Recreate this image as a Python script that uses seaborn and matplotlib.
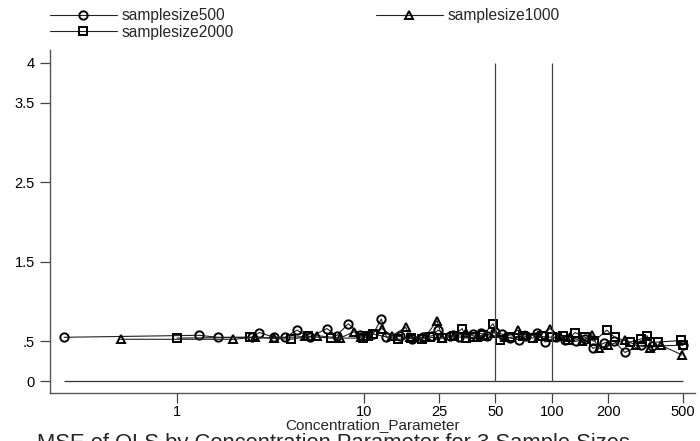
import matplotlib
matplotlib.use("Agg")
import matplotlib.pyplot as plt
import seaborn as sns
import numpy as np
import pandas as pd

# ---- data ----
x500 = [0.25, 1.31, 1.65, 2.5, 2.75, 3.3, 3.76, 4.37, 5.1, 6.3, 7.1, 8.2, 9.5, 11.1, 12.3, 13.1,
        15.5, 18, 20.5, 23, 24.7, 28.5, 29.6, 32, 37.8, 41.7, 45, 50, 54, 60, 67, 73, 83, 92,
        105, 118, 135, 150, 166, 190, 215, 245, 300, 340, 500]
y500 = [0.55, 0.575, 0.55, 0.55, 0.61, 0.55, 0.55, 0.64, 0.55, 0.66, 0.57, 0.72, 0.58, 0.59, 0.78, 0.55,
        0.56, 0.53, 0.55, 0.57, 0.64, 0.56, 0.58, 0.55, 0.59, 0.60, 0.57, 0.62, 0.59, 0.54, 0.52, 0.56, 0.61, 0.49,
        0.55, 0.52, 0.50, 0.53, 0.41, 0.48, 0.50, 0.36, 0.45, 0.44, 0.45]

x1000 = [0.50, 2.0, 2.6, 3.3, 4.8, 5.6, 7.4, 8.8, 9.6, 12.4, 14, 16.6, 17.5, 21, 24.4, 26, 30, 35,
         40, 44, 49, 56, 66, 72, 85, 98, 110, 125, 145, 163, 178, 200, 245, 280, 335, 380, 494]
y1000 = [0.525, 0.525, 0.55, 0.54, 0.56, 0.57, 0.54, 0.62, 0.55, 0.66, 0.57, 0.675, 0.55, 0.55, 0.76, 0.54, 0.56, 0.60,
         0.55, 0.57, 0.61, 0.55, 0.64, 0.58, 0.57, 0.66, 0.56, 0.55, 0.50, 0.58, 0.41, 0.45, 0.52, 0.45, 0.42, 0.45, 0.33]

x2000 = [1.0, 2.45, 4.05, 5.0, 6.6, 9.8, 10.5, 11.1, 15.1, 17.8, 20.2, 22.3, 25.9, 30, 33.2, 34.8, 38, 43,
         48.5, 53, 60, 70, 79, 88, 100, 114, 122, 133, 150, 168, 196, 216, 260, 300, 322, 335, 367, 490, 500]
y2000 = [0.54, 0.55, 0.525, 0.56, 0.54, 0.54, 0.56, 0.59, 0.525, 0.54, 0.525, 0.55, 0.54, 0.57, 0.66, 0.54, 0.55, 0.58,
         0.72, 0.52, 0.55, 0.57, 0.54, 0.56, 0.55, 0.56, 0.52, 0.61, 0.55, 0.50, 0.64, 0.55, 0.49, 0.53, 0.57, 0.49, 0.49, 0.51, 0.45]

series_names = ["samplesize500", "samplesize1000", "samplesize2000"]
xticks = [1, 10, 25, 50, 100, 200, 500]
xticklabels = ["1", "10", "25", "50", "100", "200", "500"]
yticks = [0, 0.5, 1.5, 2.5, 3.5, 4]
yticklabels = ["0", ".5", "1.5", "2.5", "3.5", "4"]
vline_x = [50, 100]
xlabel = "Concentration_Parameter"
title = "MSE of OLS by Concentration Parameter for 3 Sample Sizes"

# ---- plot ----
sns.set_theme(style="white")
plt.rcParams["font.family"] = ["Liberation Sans", "DejaVu Sans"]

fig = plt.figure(figsize=(7, 4.41), dpi=100)
ax = fig.add_axes([50 / 700, 1 - 393 / 441, 645 / 700, (393 - 50) / 441])

markers = ["o", "^", "s"]
data = [(x500, y500), (x1000, y1000), (x2000, y2000)]
handles = {}
for name, (xs, ys), mk in zip(series_names, data, markers):
    df = pd.DataFrame({"x": xs, "y": ys})
    sns.lineplot(data=df, x="x", y="y", ax=ax, estimator=None, sort=True,
                 color="#222222", linewidth=0.8, marker=mk, markersize=6,
                 markerfacecolor="none", markeredgecolor="black", markeredgewidth=1.4,
                 label=name, legend=False)
    handles[name] = ax.lines[-1]

allx = x500 + x1000 + x2000
ax.hlines(0, min(allx), max(allx), color="#333333", linewidth=0.9)
ax.vlines(vline_x, 0, 4, color="#444444", linewidth=0.9)

ax.set_xscale("log")
ax.set_xlim(0.21, 580)
ax.set_ylim(-0.15, 4.16)
ax.set_xticks(xticks)
ax.set_xticklabels(xticklabels)
ax.xaxis.set_minor_locator(matplotlib.ticker.NullLocator())
ax.set_yticks(yticks)
ax.set_yticklabels(yticklabels)
ax.tick_params(axis="both", which="major", length=7, width=0.9, color="#444444",
               labelsize=10.5, labelcolor="black", direction="out", pad=2,
               bottom=True, left=True)
ax.tick_params(axis="y", pad=4)
for s in ["top", "right"]:
    ax.spines[s].set_visible(False)
for s in ["left", "bottom"]:
    ax.spines[s].set_color("#555555")
    ax.spines[s].set_linewidth(1.0)
ax.set_xlabel(xlabel, fontsize=11, labelpad=-1)
ax.set_ylabel("")

order = ["samplesize500", "samplesize2000", "samplesize1000"]
fig.legend([handles[n] for n in order], order, loc="upper left",
           bbox_to_anchor=(50 / 700, 1 - 8 / 441), ncol=2, frameon=False,
           fontsize=11.2, handlelength=4.3, handletextpad=0.32, columnspacing=9.1,
           labelspacing=0.1, borderpad=0, borderaxespad=0)

fig.text(37 / 700, 1 - 433 / 441, title, fontsize=15.8, ha="left", va="top")

fig.savefig("out.png", dpi=100)
